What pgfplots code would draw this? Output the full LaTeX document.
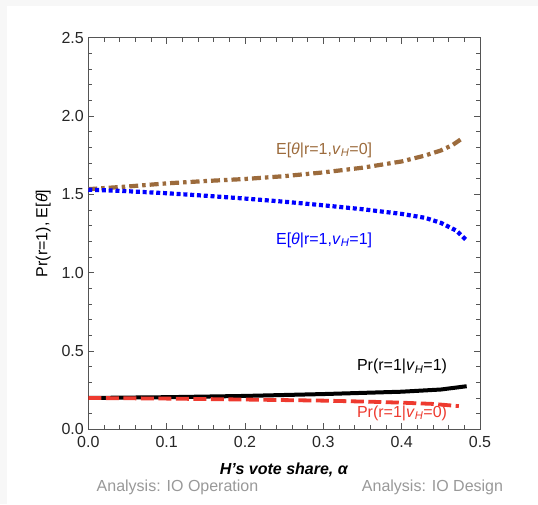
\documentclass[border=0pt]{standalone}
\usepackage{pgfplots}
\pgfplotsset{compat=1.18}
\usepackage{fontspec}
\setmainfont{Liberation Sans}
\definecolor{mbrown}{HTML}{9C6B3C}
\definecolor{mred}{HTML}{EE3A2F}
\definecolor{axgray}{HTML}{555555}
\newcommand{\vH}{\textit{v}\textsubscript{\textit{H}}}

\pgfplotstableread{
a v
0.000 1.533
0.050 1.550
0.100 1.570
0.150 1.585
0.200 1.598
0.250 1.616
0.300 1.640
0.350 1.670
0.400 1.710
0.430 1.748
0.450 1.780
0.465 1.815
0.479 1.863
}\brown

\pgfplotstableread{
a v
0.000 1.530
0.050 1.520
0.100 1.507
0.150 1.491
0.200 1.473
0.250 1.453
0.300 1.430
0.350 1.405
0.400 1.375
0.430 1.350
0.450 1.318
0.470 1.268
0.482 1.210
}\blue

\pgfplotstableread{
a v
0.000 0.200
0.100 0.205
0.200 0.213
0.300 0.225
0.400 0.240
0.450 0.254
0.483 0.275
}\black

\pgfplotstableread{
a v
0.000 0.200
0.100 0.196
0.200 0.190
0.300 0.183
0.360 0.176
0.400 0.170
0.440 0.162
0.473 0.148
}\red

\begin{document}
\begin{tikzpicture}[x=1pt,y=1pt]
\fill[black!3] (0,0) rectangle (538,504);
\fill[white] (7,0) rectangle (538,498);
\begin{axis}[
    at={(88.3pt,74.7pt)}, anchor=south west,
    scale only axis,
    width=391.7pt, height=391.6pt,
    xmin=0, xmax=0.5, ymin=0, ymax=2.5,
    xtick={0,0.1,...,0.5}, ytick={0,0.5,...,2.5},
    minor x tick num=4, minor y tick num=4,
    tick align=inside,
    major tick length=6pt, minor tick length=4pt,
    axis line style={axgray, line width=0.8pt},
    every tick/.style={axgray, line width=0.6pt},
    tick label style={font=\fontsize{16}{19}\selectfont, black!85},
    xticklabel style={yshift=-3pt},
    yticklabel style={xshift=-1pt},
    /pgf/number format/.cd, fixed, fixed zerofill, precision=1, assume math mode=true,
    /pgfplots/.cd,
    xlabel={\textbf{\textit{H's vote share, α}}},
    ylabel={Pr(r=1), E[\textit{θ}]},
    label style={font=\fontsize{16}{19}\selectfont},
    xlabel style={at={(axis description cs:0.5,0)}, anchor=north, yshift=-30pt},
    ylabel style={at={(axis description cs:0,0.5)}, anchor=south, yshift=34pt},
    clip=false,
]
\addplot[mbrown, line width=4.2pt, dash pattern=on 9pt off 4pt on 3.5pt off 4pt] table {\brown};
\addplot[blue, line width=4.2pt, dash pattern=on 4pt off 2.8pt] table {\blue};
\addplot[black, line width=4pt] table {\black};
\addplot[mred, line width=3.8pt, dash pattern=on 13pt off 4.5pt] table {\red};

\node[mbrown, font=\fontsize{16}{19}\selectfont] at (axis cs:0.301,1.783) {E[\textit{θ}|r=1,\vH=0]};
\node[blue, font=\fontsize{16}{19}\selectfont] at (axis cs:0.301,1.209) {E[\textit{θ}|r=1,\vH=1]};
\node[black, font=\fontsize{16}{19}\selectfont] at (axis cs:0.4005,0.400) {Pr(r=1|\vH=1)};
\node[mred, font=\fontsize{16}{19}\selectfont] at (axis cs:0.4005,0.104) {Pr(r=1|\vH=0)};
\end{axis}
\node[black!40, font=\fontsize{16}{19}\selectfont] at (177.5,17) {Analysis: IO Operation};
\node[black!40, font=\fontsize{16}{19}\selectfont] at (432.5,17) {Analysis: IO Design};
\end{tikzpicture}
\end{document}
